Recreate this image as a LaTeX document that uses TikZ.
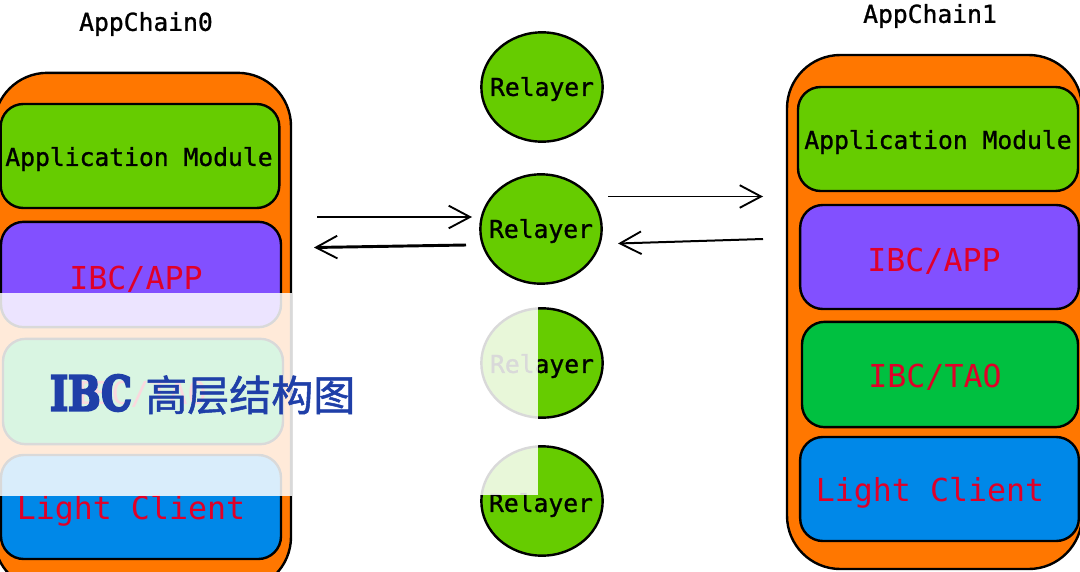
\documentclass[tikz,border=0pt]{standalone}
\usepackage{fontspec}
\setmonofont{DejaVu Sans Mono}
\newfontfamily\cjkfont{Noto Sans CJK SC}[FakeBold=1.2]
\newfontfamily\logofont{DejaVu Serif Bold}[FakeBold=5]
\newfontfamily\boldmono{DejaVu Sans Mono}[FakeBold=1.1]
\usetikzlibrary{arrows.meta,shapes.geometric}
\definecolor{orangeC}{HTML}{FF7700}
\definecolor{greenC}{HTML}{66CC00}
\definecolor{purpleC}{HTML}{8250FF}
\definecolor{taoC}{HTML}{00C040}
\definecolor{blueC}{HTML}{0088E8}
\definecolor{redC}{HTML}{E00028}
\definecolor{titleC}{HTML}{1F3FA8}
\tikzset{
  sketch/.style={draw=black,line width=1.8pt},
  outerbox/.style={sketch,fill=orangeC,rounded corners=40pt,inner sep=0pt},
  innerbox/.style={sketch,rounded corners=17pt,inner sep=0pt},
  relayer/.style={sketch,ellipse,fill=greenC,inner sep=0pt,minimum width=91pt,minimum height=82pt},
  blacktext/.style={font=\boldmono\fontsize{18.5}{20}\selectfont,text=black},
  redtext/.style={font=\ttfamily\fontsize{23.7}{26}\selectfont,text=redC},
  flow/.style={draw=black,line width=1.5pt,-{Straight Barb[length=16pt,width=17pt,line width=1.4pt]}},
  veil/.style={fill=white,fill opacity=.85,draw=none},
}
\begin{document}
\begin{tikzpicture}[x=.75pt,y=-.75pt]
\useasboundingbox (0,0) rectangle (1080,571);
\clip (0,0) rectangle (1080,571);
% left chain
\node[outerbox,minimum width=222.75pt,minimum height=388pt] (outerL) at (142.5,331.5) {};
\node[innerbox,fill=greenC,minimum width=209pt,minimum height=78pt] (appL) at (140,156) {};
\node[innerbox,fill=purpleC,minimum width=210pt,minimum height=79pt] (ibcL) at (141,274.5) {};
\node[innerbox,fill=taoC,minimum width=210pt,minimum height=79pt] (taoL) at (143,391.5) {};
\node[innerbox,fill=blueC,minimum width=210pt,minimum height=78pt] (lightL) at (141,507) {};
% right chain
\node[outerbox,minimum width=221.25pt,minimum height=385.5pt] (outerR) at (934.5,312) {};
\node[innerbox,fill=greenC,minimum width=210pt,minimum height=78pt] (appR) at (938,139) {};
\node[innerbox,fill=purpleC,minimum width=209pt,minimum height=78pt] (ibcR) at (939.5,257) {};
\node[innerbox,fill=taoC,minimum width=207pt,minimum height=79pt] (taoR) at (940,374.5) {};
\node[innerbox,fill=blueC,minimum width=209pt,minimum height=78pt] (lightR) at (939.5,489) {};
% labels
\node[blacktext] (tL) at (146,24) {AppChain0};
\node[blacktext] (tR) at (930,16) {AppChain1};
\node[blacktext] (lb1) at (139,159) {Application Module};
\node[blacktext] (lb2) at (938,142) {Application Module};
\node[redtext] (lb3) at (136,279) {IBC/APP};
\node[redtext] (lb4) at (140,394) {IBC/TAO};
\node[redtext] (lb5) at (131,511) {Light Client};
\node[redtext] (lb6) at (934,261) {IBC/APP};
\node[redtext] (lb7) at (935,377) {IBC/TAO};
\node[redtext] (lb8) at (930,493) {Light Client};
% relayers
\node[relayer] (r1) at (542,87) {};
\node[relayer] (r2) at (541,229) {};
\node[relayer] (r3) at (542,363) {};
\node[relayer] (r4) at (542,501) {};
\node[blacktext] (rt1) at (542,89) {Relayer};
\node[blacktext] (rt2) at (541,231) {Relayer};
\node[blacktext] (rt3) at (542,366) {Relayer};
\node[blacktext] (rt4) at (541,505) {Relayer};
% arrows
\coordinate (a1s) at (317,217); \coordinate (a1e) at (472,217);
\coordinate (a2s) at (466,245); \coordinate (a2e) at (314,247.5);
\coordinate (a3s) at (608,196.5); \coordinate (a3e) at (763,196.5);
\coordinate (a4s) at (763,239); \coordinate (a4e) at (618,243.5);
\draw[flow] (a1s) -- (a1e);
\draw[flow,line width=2.2pt] (a2s) -- (a2e);
\draw[flow,line width=1.1pt] (a3s) -- (a3e);
\draw[flow] (a4s) -- (a4e);
% translucent title band
\path[veil] (0,293) rectangle (292,495.5);
\path[veil] (478,304) rectangle (538,421);
\path[veil] (478,442) rectangle (538,495);
\node[font=\logofont\fontsize{36}{36}\selectfont,text=titleC,xscale=.8,transform shape,inner sep=0pt] (logo) at (91,393) {IBC};
\node[font=\cjkfont\fontsize{31.5}{34}\selectfont,text=titleC,inner sep=0pt,anchor=west] (title) at (145,395) {高层结构图};
\end{tikzpicture}
\end{document}
